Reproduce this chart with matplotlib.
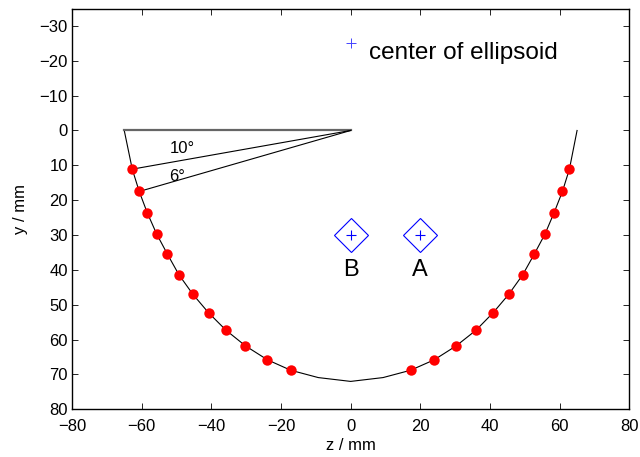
import matplotlib
matplotlib.use("Agg")
import matplotlib.pyplot as plt

plt.rcParams['font.family'] = ['Liberation Sans', 'DejaVu Sans']

# Measured red dot positions (left half; right half mirrored values)
dot_z_left = [-62.7, -60.7, -58.4, -55.7, -52.6, -49.3, -45.3, -40.8, -35.8, -30.2, -23.9, -17.2]
dot_y_left = [11.1, 17.5, 23.6, 29.7, 35.5, 41.4, 47.0, 52.3, 57.3, 61.8, 65.8, 68.8]
dot_z_right = [62.8, 60.8, 58.4, 55.8, 52.7, 49.4, 45.4, 40.9, 36.0, 30.3, 24.0, 17.2]
dot_y_right = [11.1, 17.5, 23.6, 29.7, 35.5, 41.4, 47.0, 52.3, 57.3, 61.8, 65.8, 68.8]

# Outline of the ellipse (polygon vertices)
curve_z = ([-65.0] + dot_z_left + [-9.3, 0.0, 9.3] + dot_z_right[::-1] + [65.0])
curve_y = ([0.0] + dot_y_left + [70.9, 72.0, 70.9] + dot_y_right[::-1] + [0.0])

# Angle construction lines
ray_z = [-65.0, 0.0, -62.7, 0.0, -60.7]
ray_y = [0.0, 0.0, 11.1, 0.0, 17.5]

center = (0.0, -25.0)
points_z = [0.0, 20.0]
points_y = [30.0, 30.0]
point_labels = ['B', 'A']

fig = plt.figure(figsize=(6.4, 4.57), dpi=100)
ax = fig.add_axes([0.1125, 0.1044, 0.8708, 0.877])

ax.plot(curve_z, curve_y, color='black', lw=0.8)
ax.plot(ray_z[:2], ray_y[:2], color='0.4', lw=1.6)
ax.plot([ray_z[1], ray_z[2]], [ray_y[1], ray_y[2]], color='black', lw=0.8)
ax.plot([ray_z[3], ray_z[4]], [ray_y[3], ray_y[4]], color='black', lw=0.8)

ax.plot(dot_z_left, dot_y_left, 'o', color='red', markersize=7.5, markeredgewidth=0)
ax.plot(dot_z_right, dot_y_right, 'o', color='red', markersize=7.5, markeredgewidth=0)

ax.plot([center[0]], [center[1]], '+', color='#4444ff', markersize=6.5, mew=0.7)
ax.text(5.4, -22.2, 'center of ellipsoid', fontsize=17.5, ha='left', va='center')

ax.plot(points_z, points_y, 'D', color='blue', markersize=17.5, fillstyle='none', mew=0.8)
ax.plot(points_z, points_y, '+', color='blue', markersize=7.5, mew=0.8)
for zz, yy, lab in zip(points_z, points_y, point_labels):
    ax.text(zz, yy + 10, lab, fontsize=17, ha='center', va='center')

ax.text(-52.0, 5.3, '10°', fontsize=12, ha='left', va='center')
ax.text(-52.2, 13.2, '6°', fontsize=12, ha='left', va='center')

ax.set_xlim(-80, 80)
ax.set_ylim(80, -35)
ax.set_xticks(range(-80, 81, 20))
ax.set_yticks(range(-30, 81, 10))
ax.tick_params(direction='in', top=True, right=True, length=4, width=0.6, labelsize=12)
ax.tick_params(axis='x', pad=7)
ax.tick_params(axis='y', pad=3)
for s in ax.spines.values():
    s.set_linewidth(1.0)
ax.set_xlabel('z / mm', fontsize=12, labelpad=3)
ax.set_ylabel('y / mm', fontsize=12, labelpad=8)

fig.savefig('out.png', dpi=100)
